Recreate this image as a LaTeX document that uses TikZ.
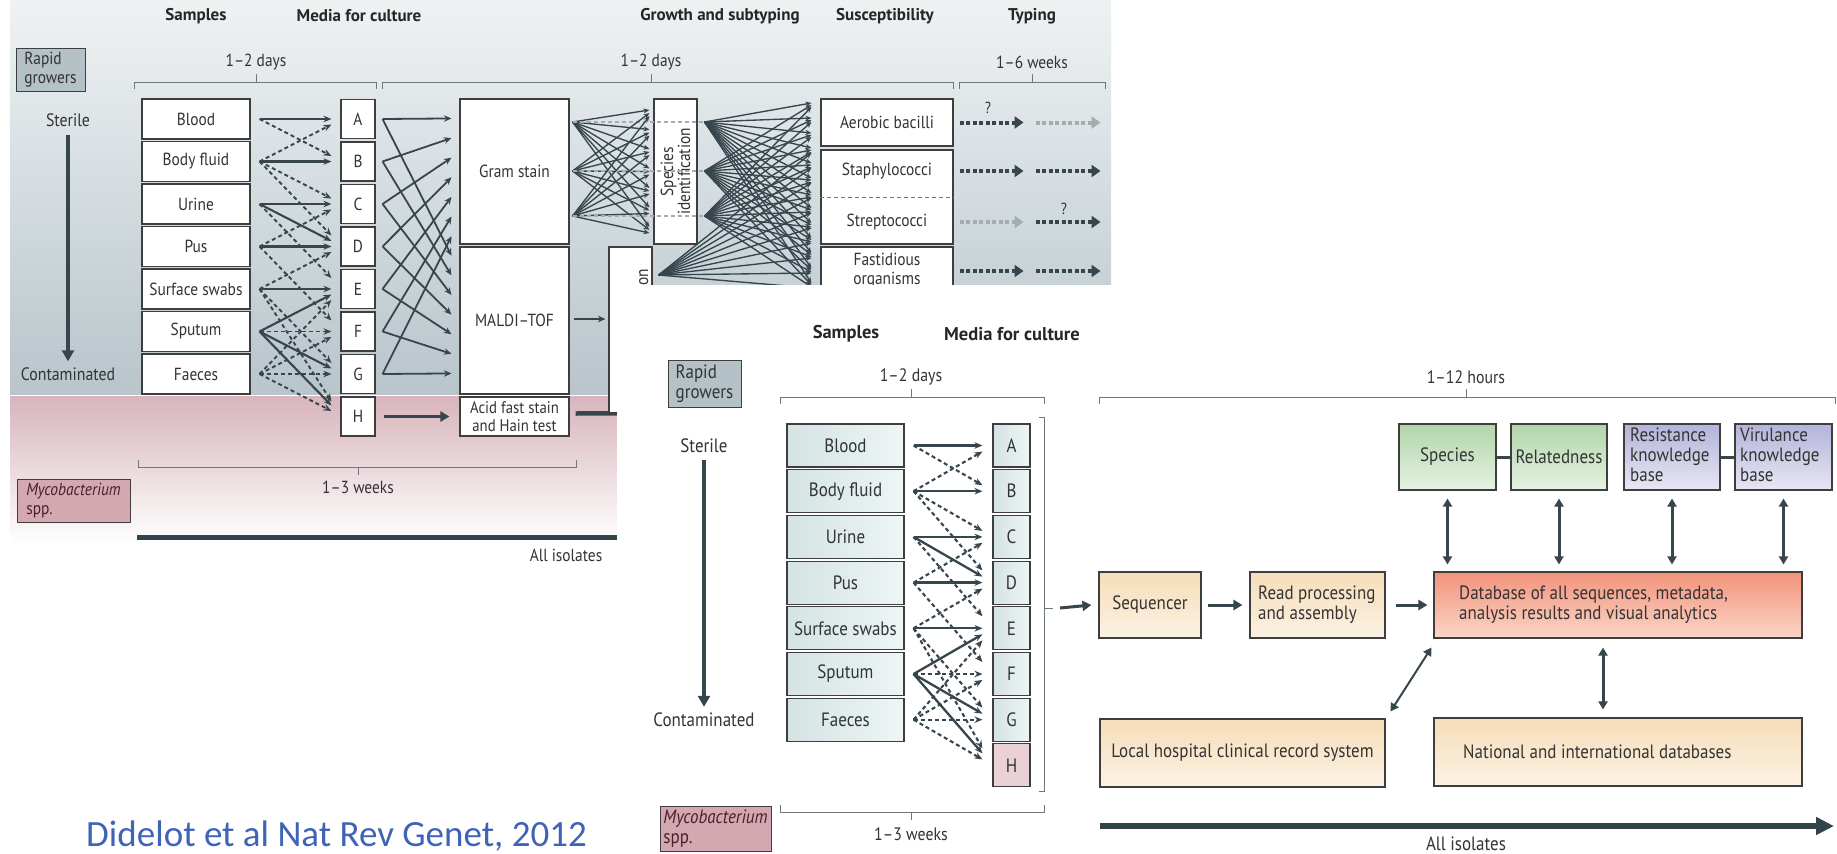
\documentclass[tikz,border=0pt]{standalone}
\usepackage{fontspec}
\setmainfont{PT Sans}[FakeStretch=0.88]
\newfontfamily\titfont{PT Sans}
\newfontfamily\capfont{Carlito}
\usetikzlibrary{arrows.meta,calc}
\definecolor{textc}{HTML}{333333}
\definecolor{arrc}{HTML}{37454C}
\definecolor{lightarr}{HTML}{A3AEB3}
\definecolor{boxline}{HTML}{3E3E3E}
\definecolor{brkc}{HTML}{6E777B}
\definecolor{bgtop}{HTML}{EFF2F3}
\definecolor{bgbot}{HTML}{B8C5CB}
\definecolor{pinktop}{HTML}{D8B5BC}
\definecolor{rapidc}{HTML}{B4C2C8}
\definecolor{mycoc}{HTML}{D4A8B1}
\definecolor{mycotext}{HTML}{4A1F2A}
\definecolor{tealL}{HTML}{D4E3E4}
\definecolor{tealR}{HTML}{EEF5F5}
\definecolor{hpink}{HTML}{EAD1D5}
\definecolor{beigeT}{HTML}{F6DDB9}
\definecolor{beigeB}{HTML}{FCF2E4}
\definecolor{salT}{HTML}{F2937B}
\definecolor{salB}{HTML}{FBD5C7}
\definecolor{grT}{HTML}{B1D5AA}
\definecolor{grB}{HTML}{E6F2E2}
\definecolor{puT}{HTML}{B4B3DA}
\definecolor{puB}{HTML}{E7E7F4}
\definecolor{capblue}{HTML}{3F63B8}
\definecolor{barc}{HTML}{33434B}
\newcommand\brkdown[4]{\draw[brk] (#1,#3+7) -- (#1,#3) -- (#2,#3) -- (#2,#3+7) (#4,#3) -- (#4,#3-8);}
\newcommand\brkup[4]{\draw[brk] (#1,#3-7) -- (#1,#3) -- (#2,#3) -- (#2,#3-7) (#4,#3) -- (#4,#3+8);}
\def\solidlist{0/0,1/1,2/2,2/3,3/3,4/4,5/4,5/6,5/7}
\def\dashlist{0/1,1/0,1/2,1/3,2/4,3/2,3/5,4/3,4/6,4/7,5/5,6/4,6/5,6/6,6/7}
\begin{document}
\begin{tikzpicture}[x=1pt,y=-1pt,
  every node/.style={inner sep=0pt,text=textc},
  bbox/.style={draw=boxline,line width=1.1pt,fill=white},
  fbox/.style={draw=boxline,line width=1.1pt},
  btit/.style={font=\titfont\fontsize{17}{19}\selectfont\bfseries,text=black!85},
  ftit/.style={font=\titfont\fontsize{18.5}{20}\selectfont\bfseries,text=black!85},
  bt/.style={font=\fontsize{17.5}{18.5}\selectfont},
  ft/.style={font=\fontsize{19.3}{20}\selectfont},
  brk/.style={draw=brkc,line width=1pt},
  sarr/.style={draw=arrc,line width=2.1pt,-{Stealth[length=8pt,width=6.5pt]}},
  darr/.style={draw=arrc,line width=1.9pt,dash pattern=on 4pt off 3pt,-{Stealth[length=8pt,width=6.5pt]}},
  marr/.style={draw=arrc,line width=1.8pt,-{Stealth[length=7.5pt,width=6.5pt]}},
  tarr/.style={draw=arrc,line width=1.35pt,-{Stealth[length=6pt,width=5pt]}},
  bigarr/.style={draw=arrc,line width=4pt,-{Triangle[length=11pt,width=12pt]}},
  medarr/.style={draw=arrc,line width=3.5pt,-{Triangle[length=9pt,width=10pt]}},
  dblarr/.style={draw=arrc,line width=3pt,{Triangle[length=8pt,width=9pt]}-{Triangle[length=8pt,width=9pt]}},
  tyd/.style={draw=arrc,line width=4pt,dash pattern=on 4pt off 2.5pt,-{Triangle[length=9pt,width=12pt]}},
  tyl/.style={tyd,draw=lightarr}]
\useasboundingbox (0,0) rectangle (1837,854);
\clip (0,0) rectangle (1837,854);
\fill[white] (0,0) rectangle (1837,854);
% ================= BACK PANEL =================
\shade[top color=bgtop,bottom color=bgbot] (10,0) rectangle (1111,394);
\shade[top color=pinktop,bottom color=white] (10,396) rectangle (700,545);
\node[btit] (bh1) at (196,16) {Samples};
\node[btit] (bh2) at (359,16) {Media for culture};
\node[btit] (bh3) at (720,16) {Growth and subtyping};
\node[btit] (bh4) at (885,16) {Susceptibility};
\node[btit] (bh5) at (1032,16) {Typing};
\node[draw=boxline,line width=1pt,fill=rapidc,minimum width=69pt,minimum height=43pt,align=left,bt] (brap) at (50.5,69.5) {Rapid\\growers};
\brkdown{134}{376}{82}{256}
\brkdown{382}{953}{82}{651}
\brkdown{959}{1105}{82}{1032}
\node[bt] (bd1) at (256,62) {1–2 days};
\node[bt] (bd2) at (651,62) {1–2 days};
\node[bt] (bd3) at (1032,62) {1–6 weeks};
\node[bt,font=\fontsize{18}{19}\selectfont] (bster) at (68,120) {Sterile};
\node[bt,font=\fontsize{18}{19}\selectfont] (bcont) at (68,374) {Contaminated};
\draw[bigarr] ($(bster.south)+(0,8)$) -- ($(bcont.north)+(0,-6)$);
\foreach \n [count=\i from 0] in {Blood,Body fluid,Urine,Pus,Surface swabs,Sputum,Faeces}
  {\node[bbox,bt,minimum width=108pt,minimum height=40pt] (bs\i) at (196,119+42.5*\i) {\n};}
\foreach \n [count=\i from 0] in {A,B,C,D,E,F,G,H}
  {\node[bbox,bt,minimum width=34pt,minimum height=39pt] (bm\i) at (358,119+42.5*\i) {\n};}
\foreach \s/\t in \solidlist {\pgfmathsetmacro\off{max(-15,min(15,(\s-\t)*5.5))}
  \draw[sarr] ($(bs\s.east)+(9,0)$) -- ($(bm\t.west)+(-9,\off)$);}
\foreach \s/\t in \dashlist {\pgfmathsetmacro\off{max(-15,min(15,(\s-\t)*5.5))}
  \draw[darr] ($(bs\s.east)+(9,0)$) -- ($(bm\t.west)+(-9,\off)$);}
\node[bbox,bt,minimum width=109pt,minimum height=145pt] (bgram) at (514.5,171.5) {Gram stain};
\node[bbox,bt,minimum width=109pt,minimum height=147pt] (bmal) at (514.5,320.5) {MALDI–TOF};
\node[bbox,bt,font=\fontsize{16.8}{17.5}\selectfont,minimum width=109pt,minimum height=39pt,align=center] (bacid) at (514.5,416.5) {Acid fast stain\\and Hain test};
\foreach \i in {0,...,6} {
  \pgfmathsetmacro\dg{20+19.615*\i}
  \pgfmathsetmacro\dm{9.3+19.615*\i}
  \draw[marr] ($(bm\i.east)+(7,0)$) -- ($(bgram.north west)+(-8,\dg)$);
  \draw[marr] ($(bm\i.east)+(7,0)$) -- ($(bmal.north west)+(-8,\dm)$);}
\draw[medarr] ($(bm7.east)+(8,0)$) -- ($(bacid.west)+(-10,0)$);
\draw[draw=arrc,line width=4.5pt] ($(bacid.east)+(6,-3)$) -- (700,413);
% species identification
\node[bbox,minimum width=43pt,minimum height=145pt] (bspec) at (675.5,171.5) {};
\node[bt,rotate=90,align=center,font=\fontsize{17.5}{17}\selectfont] (bspect) at (bspec) {Species\\identification};
\node[bbox,minimum width=43pt,minimum height=166pt] (bhid) at (630.5,330) {};
\node[bt,rotate=90,anchor=east,font=\fontsize{17.5}{17}\selectfont] (bhidt) at (642,269) {identification};
\draw[marr] ($(bmal.east)+(4,-1.5)$) -- ($(bhid.west)+(-3,-11)$);
\foreach \dy [count=\j from 0] in {-49.5,-0.5,44.5} {
  \foreach \k in {0,...,6} {
    \pgfmathsetmacro\ty{113+19.5*\k+(\j-1)*3-171.5}
    \draw[tarr] ($(bgram.east)+(3,\dy)$) -- ($(bspec.west)+(-4,\ty)$);}
  \draw[draw=lightarr,line width=1.3pt,dash pattern=on 4pt off 3pt] ($(bgram.east)+(3,\dy)$) -- ($(bspec.east)+(7,\dy)$);
}
% susceptibility
\node[bbox,bt,minimum width=132pt,minimum height=47pt] (baer) at (887,122.5) {Aerobic bacilli};
\node[bbox,minimum width=132pt,minimum height=94pt] (bss) at (887,197) {};
\node[bt] (bstaph) at (887,171) {Staphylococci};
\node[bt] (bstrep) at (887,222) {Streptococci};
\draw[draw=brkc,line width=0.9pt,dash pattern=on 4pt off 3pt] (bss.west) -- (bss.east);
\node[bbox,minimum width=132pt,minimum height=60pt] (bfas) at (887,277) {};
\node[bt,align=center] (bfast) at (887,270.5) {Fastidious\\organisms};
\foreach \dy [count=\j from 0] in {-49.5,-0.5,44.5} {
  \foreach \k in {0,...,12} {
    \pgfmathsetmacro\ty{105+15*\k+(\j-1)*2-122.5}
    \draw[tarr] ($(bspec.east)+(7,\dy)$) -- ($(baer.west)+(-9,\ty)$);}}
\foreach \k in {3,...,12} {
  \pgfmathsetmacro\ty{105+15*\k+3-122.5}
  \draw[tarr] ($(bhid.east)+(6,-55)$) -- ($(baer.west)+(-9,\ty)$);}
% typing
\draw[tyd] ($(baer.east)+(6,0)$) -- ++(64,0);
\draw[tyl] ($(baer.east)+(82,0)$) -- ++(65,0);
\draw[tyd] ($(bss.east)+(6,-26)$) -- ++(64,0);
\draw[tyd] ($(bss.east)+(82,-26)$) -- ++(65,0);
\draw[tyl] ($(bss.east)+(6,25)$) -- ++(64,0);
\draw[tyd] ($(bss.east)+(82,25)$) -- ++(65,0);
\draw[tyd] ($(bfas.east)+(6,-6)$) -- ++(64,0);
\draw[tyd] ($(bfas.east)+(82,-6)$) -- ++(65,0);
\node[bt,font=\fontsize{16}{16}\selectfont] (bq1) at (988,108) {?};
\node[bt,font=\fontsize{16}{16}\selectfont] (bq2) at (1064,209) {?};
% mycobacterium part
\node[draw=boxline,line width=1pt,fill=mycoc,minimum width=113pt,minimum height=43pt,align=left,bt,text=mycotext] (bmyco) at (73.5,500.5) {\textit{Mycobacterium}\\spp.};
\brkup{138}{576}{467}{358}
\node[bt] (bw13) at (358,487) {1–3 weeks};
\draw[draw=barc,line width=5pt] (137,537) -- (700,537);
\node[bt] (ball) at (566,555) {All isolates};
% caption
\node[anchor=base west,font=\capfont\fontsize{37}{40}\selectfont,text=capblue] (cap) at (86,846) {Didelot et al Nat Rev Genet, 2012};
% ================= FRONT PANEL =================
\fill[white] (617,285) rectangle (1837,854);
\node[ftit] (fh1) at (846,334) {Samples};
\node[ftit] (fh2) at (1012,334) {Media for culture};
\node[draw=boxline,line width=1pt,fill=rapidc,minimum width=73pt,minimum height=47pt,align=left,ft] (frap) at (704.5,383.5) {Rapid\\growers};
\brkdown{780}{1044}{397}{911}
\brkdown{1099}{1835}{397}{1466}
\node[ft,font=\fontsize{18}{19}\selectfont] (fd1) at (911,377) {1–2 days};
\node[ft,font=\fontsize{18}{19}\selectfont] (fd2) at (1466,377) {1–12 hours};
\node[ft] (fster) at (704,446) {Sterile};
\node[ft] (fcont) at (704,720) {Contaminated};
\draw[bigarr] ($(fster.south)+(0,7)$) -- ($(fcont.north)+(0,-6)$);
\foreach \n [count=\i from 0] in {Blood,Body fluid,Urine,Pus,Surface swabs,Sputum,Faeces}
  {\node[fbox,ft,left color=tealL,right color=tealR,minimum width=117pt,minimum height=43pt] (fs\i) at (845.5,445.5+45.7*\i) {\n};}
\foreach \n [count=\i from 0] in {A,B,C,D,E,F,G}
  {\node[fbox,ft,left color=tealL,right color=tealR,minimum width=37pt,minimum height=43pt] (fm\i) at (1011.5,445.5+45.7*\i) {\n};}
\node[fbox,ft,fill=hpink,minimum width=37pt,minimum height=43pt] (fm7) at (1011.5,445.5+45.7*7) {H};
\foreach \s/\t in \solidlist {\pgfmathsetmacro\off{max(-17,min(17,(\s-\t)*6))}
  \draw[sarr,line width=2.3pt] ($(fs\s.east)+(9,0)$) -- ($(fm\t.west)+(-10,\off)$);}
\foreach \s/\t in \dashlist {\pgfmathsetmacro\off{max(-17,min(17,(\s-\t)*6))}
  \draw[darr,line width=2.1pt] ($(fs\s.east)+(9,0)$) -- ($(fm\t.west)+(-10,\off)$);}
\draw[brk] (1039,417) -- (1044,417) -- (1044,791) -- (1039,791) (1044,608) -- (1053,608);
\coordinate (fbrk) at (1060,608);
% pipeline
\node[fbox,ft,top color=beigeT,bottom color=beigeB,minimum width=102pt,minimum height=66pt] (fseq) at (1150,605) {Sequencer};
\node[fbox,top color=beigeT,bottom color=beigeB,minimum width=135pt,minimum height=66pt] (fread) at (1317.5,605) {};
\node[ft,align=left,anchor=west] (freadt) at (1258,605) {Read processing\\and assembly};
\node[fbox,top color=salT,bottom color=salB,minimum width=368pt,minimum height=66pt] (fdb) at (1618,605) {};
\node[ft,align=left,anchor=west] (fdbt) at (1459,605) {Database of all sequences, metadata,\\analysis results and visual analytics};
\draw[medarr,line width=3pt] (fbrk) -- ($(fseq.west)+(-7,0)$);
\draw[medarr,line width=3pt] ($(fseq.east)+(6,0)$) -- ($(fread.west)+(-7,0)$);
\draw[medarr,line width=3pt] ($(fread.east)+(10,0)$) -- ($(fdb.west)+(-6,0)$);
\node[fbox,ft,top color=grT,bottom color=grB,minimum width=97pt,minimum height=66pt] (fspe) at (1447.5,457) {Species};
\node[fbox,ft,top color=grT,bottom color=grB,minimum width=96pt,minimum height=66pt] (frel) at (1559,457) {Relatedness};
\node[fbox,top color=puT,bottom color=puB,minimum width=96pt,minimum height=66pt] (fres) at (1672,457) {};
\node[ft,align=left,anchor=north west] (frest) at (1630,428) {Resistance\\knowledge\\base};
\node[fbox,top color=puT,bottom color=puB,minimum width=97pt,minimum height=66pt] (fvir) at (1783.5,457) {};
\node[ft,align=left,anchor=north west] (fvirt) at (1740,428) {Virulance\\knowledge\\base};
\draw[draw=arrc,line width=3pt] (fspe.east) -- (frel.west);
\draw[draw=arrc,line width=3pt] (fres.east) -- (fvir.west);
\foreach \b in {fspe,frel,fres,fvir}
  {\draw[dblarr] ($(\b.south)+(0,8)$) -- ($(\b.south |- fdb.north)+(0,-7)$);}
\node[fbox,ft,top color=beigeT,bottom color=beigeB,minimum width=285pt,minimum height=68pt] (floc) at (1242.5,753) {Local hospital clinical record system};
\node[fbox,top color=beigeT,bottom color=beigeB,minimum width=368pt,minimum height=68pt] (fnat) at (1618,752) {};
\node[ft,anchor=west] (fnatt) at (1463,752) {National and international databases};
\draw[dblarr,line width=2pt] ($(fdb.south west)+(-2,9)$) -- ($(floc.north east)+(5,-7)$);
\draw[dblarr] ($(fdb.south)+(-15,9)$) -- ($(fnat.north)+(-15,-8)$);
\coordinate (fbarL) at (1100,826);
\coordinate (fbarR) at (1834,826);
\draw[draw=barc,line width=5.5pt,-{Triangle[length=18pt,width=17pt]}] (fbarL) -- (fbarR);
\node[ft] (fall) at (1466,844) {All isolates};
\node[draw=boxline,line width=1pt,fill=mycoc,minimum width=111pt,minimum height=45pt,align=left,ft,text=mycotext] (fmyco) at (715.5,828.5) {\textit{Mycobacterium}\\spp.};
\brkup{780}{1044}{812}{911}
\node[ft,font=\fontsize{18}{19}\selectfont] (fw13) at (911,834) {1–3 weeks};
\end{tikzpicture}
\end{document}
